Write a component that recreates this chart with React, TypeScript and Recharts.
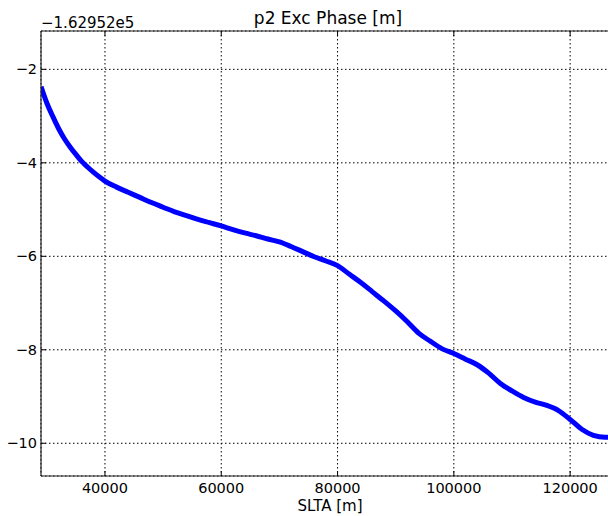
import React from 'react';
import { LineChart, Line, XAxis, YAxis, CartesianGrid } from 'recharts';

// SLTA [m] along the track
const slta = [
  29000, 30000, 31000, 32000, 33000, 34000, 35000, 36000, 37000, 38000, 39000, 40000,
  42000, 44000, 46000, 48000, 50000, 52000, 54000, 56000, 58000, 60000, 62000, 64000,
  66000, 68000, 70000, 72000, 74000, 76000, 78000, 80000, 82000, 84000, 86000, 88000,
  90000, 92000, 94000, 96000, 98000, 100000, 102000, 104000, 106000, 108000, 110000,
  112000, 114000, 116000, 118000, 120000, 122000, 124000, 126000, 127200,
];

// p2 excess phase, offset by -1.62952e5
const phase = [
  -2.37, -2.72, -3.0, -3.26, -3.48, -3.66, -3.82, -3.97, -4.09, -4.2, -4.3, -4.39,
  -4.52, -4.63, -4.74, -4.85, -4.95, -5.05, -5.13, -5.21, -5.28, -5.35, -5.43, -5.5,
  -5.56, -5.63, -5.69, -5.79, -5.9, -6.01, -6.1, -6.2, -6.38, -6.56, -6.76, -6.96,
  -7.17, -7.4, -7.65, -7.82, -7.98, -8.08, -8.2, -8.32, -8.5, -8.72, -8.88,
  -9.02, -9.12, -9.19, -9.3, -9.49, -9.7, -9.83, -9.87, -9.87,
];

const xTicks = [40000, 60000, 80000, 100000, 120000];
const yTicks = [-10, -8, -6, -4, -2];

const data = slta.map((x, i) => ({ slta: x, phase: phase[i] }));

const font = '"DejaVu Sans", sans-serif';

const XTick = (props: any) => {
  const { x, y, payload } = props;
  return (
    <g>
      <line x1={x} y1={y} x2={x} y2={y - 5} stroke="#000" strokeWidth={1} />
      <text x={x} y={y + 17} textAnchor="middle" fontSize={14.5} fontFamily={font} fill="#000">
        {payload.value}
      </text>
    </g>
  );
};

const YTick = (props: any) => {
  const { x, y, payload } = props;
  const label = String(payload.value).replace('-', '\u2212');
  return (
    <g>
      <line x1={x} y1={y} x2={x + 5} y2={y} stroke="#000" strokeWidth={1} />
      <text x={37} y={y + 5} textAnchor="end" fontSize={14.5} fontFamily={font} fill="#000">
        {label}
      </text>
    </g>
  );
};

const TopTick = (props: any) => {
  const { x, y } = props;
  return <line x1={x} y1={y} x2={x} y2={y + 5} stroke="#000" strokeWidth={1} />;
};

export default function App() {
  return (
    <div style={{ position: 'absolute', left: 0, top: 0, width: 608, height: 516, overflow: 'hidden', background: '#fff' }}>
      <LineChart width={612} height={516} data={data} margin={{ top: 0, right: 0, bottom: 0, left: 0 }}>
        <CartesianGrid stroke="#000" strokeDasharray="1.5 2.5" strokeWidth={1} />
        <XAxis
          dataKey="slta"
          type="number"
          domain={[29000, 127200]}
          ticks={xTicks}
          height={40}
          tickSize={0}
          tickMargin={0}
          tick={XTick}
          interval={0}
          axisLine={{ stroke: '#222', strokeWidth: 1.2 }}
          allowDataOverflow
        />
        <XAxis
          xAxisId="top"
          orientation="top"
          dataKey="slta"
          type="number"
          domain={[29000, 127200]}
          ticks={xTicks}
          height={31}
          tickSize={0}
          tickMargin={0}
          tick={TopTick}
          interval={0}
          axisLine={{ stroke: '#222', strokeWidth: 1.2 }}
          allowDataOverflow
        />
        <YAxis
          type="number"
          domain={[-10.7, -1.18]}
          ticks={yTicks}
          width={41}
          tickSize={0}
          tickMargin={0}
          tick={YTick}
          interval={0}
          axisLine={{ stroke: '#222', strokeWidth: 1.2 }}
          allowDataOverflow
        />
        <Line
          type="monotone"
          dataKey="phase"
          stroke="#0000ff"
          strokeWidth={5}
          dot={false}
          isAnimationActive={false}
        />
      </LineChart>
      <svg width={608} height={516} style={{ position: 'absolute', left: 0, top: 0, pointerEvents: 'none' }}>
        <text x={328} y={24} textAnchor="middle" fontSize={17} fontFamily={font} fill="#000">
          p2 Exc Phase [m]
        </text>
        <text x={41} y={28} textAnchor="start" fontSize={15} fontFamily={font} fill="#000">
          {'\u22121.62952e5'}
        </text>
        <text x={330} y={511} textAnchor="middle" fontSize={15} fontFamily={font} fill="#000">
          SLTA [m]
        </text>
      </svg>
    </div>
  );
}
